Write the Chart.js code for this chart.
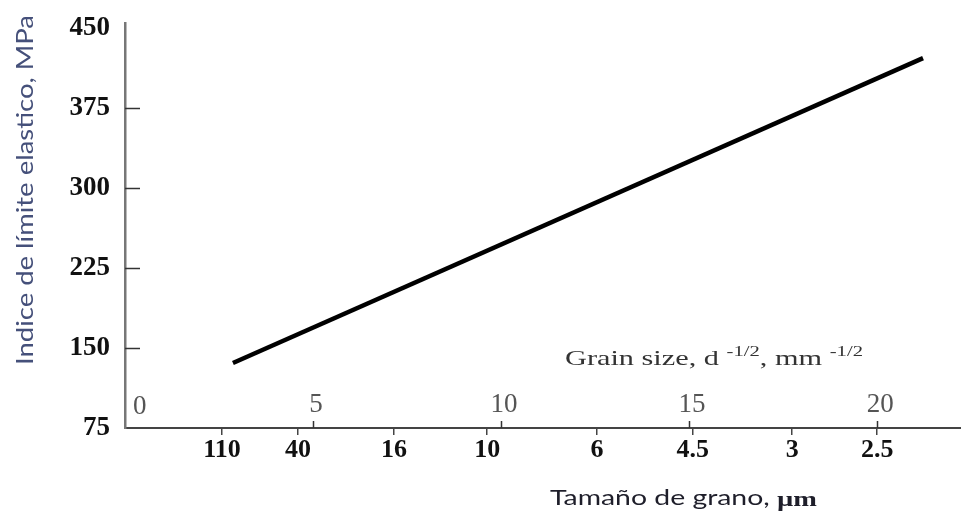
<!DOCTYPE html>
<html>
<head>
<meta charset="utf-8">
<script src="https://cdn.jsdelivr.net/npm/chart.js@4/dist/chart.umd.min.js"></script>
<style>
  html, body { margin: 0; padding: 0; background: #fff; }
  canvas { display: block; }
</style>
</head>
<body>
<canvas id="c" width="961" height="516"></canvas>
<script>
// Grain size in µm and where each falls on the d^-1/2 (mm^-1/2) scale
const grainSizeUm = ['110', '40', '16', '10', '6', '4.5', '3', '2.5'];
const grainSizeAt = [2.58, 4.60, 7.15, 9.63, 12.55, 15.1, 17.74, 20.0];
// d^-1/2 scale ticks
const invSqrtTicks = [0, 5, 10, 15, 20];
// Yield strength axis ticks (MPa)
const yTicks = [75, 150, 225, 300, 375, 450];
// Hall-Petch line end points: d^-1/2 and yield strength
const lineX = [2.87, 21.22];
const lineY = [136, 422];

const serif = '"Liberation Serif", "Times New Roman", serif';
const sans = 'Lato, "Open Sans", sans-serif';

// Draws a run of text pieces [text, font, dy] starting at (x, y), stretched to a given width
function drawRun(ctx, pieces, x, y, width) {
  let natural = 0;
  pieces.forEach(([t, f]) => { ctx.font = f; natural += ctx.measureText(t).width; });
  ctx.save();
  ctx.translate(x, y);
  ctx.scale(width / natural, 1);
  ctx.textAlign = 'left';
  ctx.textBaseline = 'alphabetic';
  let cx = 0;
  pieces.forEach(([t, f, dy]) => {
    ctx.font = f;
    ctx.fillText(t, cx, dy || 0);
    cx += ctx.measureText(t).width;
  });
  ctx.restore();
}

const annotate = {
  id: 'hallPetchAnnotate',
  afterDraw(chart) {
    const { ctx, scales: { x, y } } = chart;
    const base = y.getPixelForValue(y.min);
    ctx.save();

    // inward ticks on the strength axis
    ctx.strokeStyle = '#333';
    ctx.lineWidth = 1.5;
    yTicks.filter(v => v !== yTicks[0] && v !== yTicks[yTicks.length - 1]).forEach(v => {
      const py = Math.round(y.getPixelForValue(v)) + 0.5;
      ctx.beginPath();
      ctx.moveTo(x.left, py);
      ctx.lineTo(x.left + 15, py);
      ctx.stroke();
    });

    // inner d^-1/2 scale: upward ticks and grey labels
    ctx.font = '27px ' + serif;
    ctx.fillStyle = '#555';
    ctx.textBaseline = 'alphabetic';
    invSqrtTicks.forEach(v => {
      const px = x.getPixelForValue(v);
      if (v > 0) {
        ctx.beginPath();
        ctx.moveTo(Math.round(px) + 0.5, base);
        ctx.lineTo(Math.round(px) + 0.5, base - 7);
        ctx.stroke();
        ctx.textAlign = 'center';
        ctx.fillText(String(v), px + 3, 412);
      } else {
        ctx.textAlign = 'left';
        ctx.fillText(String(v), px + 8, 414);
      }
    });

    // scale caption with superscripts
    ctx.fillStyle = '#333';
    drawRun(ctx, [
      ['Grain size, d ', '22px ' + serif, 0],
      ['-1/2', '15px ' + serif, -9],
      [', mm ', '22px ' + serif, 0],
      ['-1/2', '15px ' + serif, -9]
    ], 565, 365, 298);

    // bottom axis title
    ctx.fillStyle = '#1e1e2a';
    drawRun(ctx, [
      ['Tamaño de grano, ', '21px ' + sans, 0],
      ['µm', 'bold 21px ' + serif, 1]
    ], 550, 505, 267);

    // left axis title, reading upwards
    ctx.save();
    ctx.translate(33, 365);
    ctx.rotate(-Math.PI / 2);
    ctx.fillStyle = '#45507a';
    drawRun(ctx, [['Indice de límite elastico, MPa', '24px ' + sans, 0]], 0, 0, 350);
    ctx.restore();

    ctx.restore();
  }
};

new Chart(document.getElementById('c'), {
  type: 'line',
  data: {
    datasets: [{
      data: lineX.map((v, i) => ({ x: v, y: lineY[i] })),
      borderColor: '#000',
      borderWidth: 4.5,
      borderCapStyle: 'butt',
      pointRadius: 0,
      tension: 0,
      fill: false
    }]
  },
  options: {
    responsive: false,
    devicePixelRatio: 1,
    animation: false,
    layout: { padding: { top: 23, right: 0, bottom: 0, left: 0 } },
    plugins: { legend: { display: false }, tooltip: { enabled: false } },
    scales: {
      x: {
        type: 'linear',
        min: 0,
        max: 22.23,
        afterBuildTicks: s => { s.ticks = grainSizeAt.map(v => ({ value: v })); },
        afterFit: s => { s.height = 88; s.paddingLeft = 0; s.paddingRight = 0; },
        ticks: {
          callback: (v, i) => grainSizeUm[i],
          autoSkip: false,
          maxRotation: 0,
          padding: 0,
          color: '#111',
          font: { family: serif, size: 26, weight: 'bold' }
        },
        grid: { drawOnChartArea: false, drawTicks: true, tickLength: 7, color: '#444', lineWidth: 1.5 },
        border: { display: true, color: '#444', width: 2 }
      },
      y: {
        type: 'linear',
        min: 75,
        max: 455,
        afterBuildTicks: s => { s.ticks = yTicks.map(v => ({ value: v })); },
        afterFit: s => { s.width = 125; s.paddingTop = 0; s.paddingBottom = 0; },
        ticks: {
          padding: 15,
          color: '#111',
          font: { family: serif, size: 27, weight: 'bold' }
        },
        grid: { drawOnChartArea: false, drawTicks: false },
        border: { display: true, color: '#777', width: 2.5 }
      }
    }
  },
  plugins: [annotate]
});
</script>
</body>
</html>
